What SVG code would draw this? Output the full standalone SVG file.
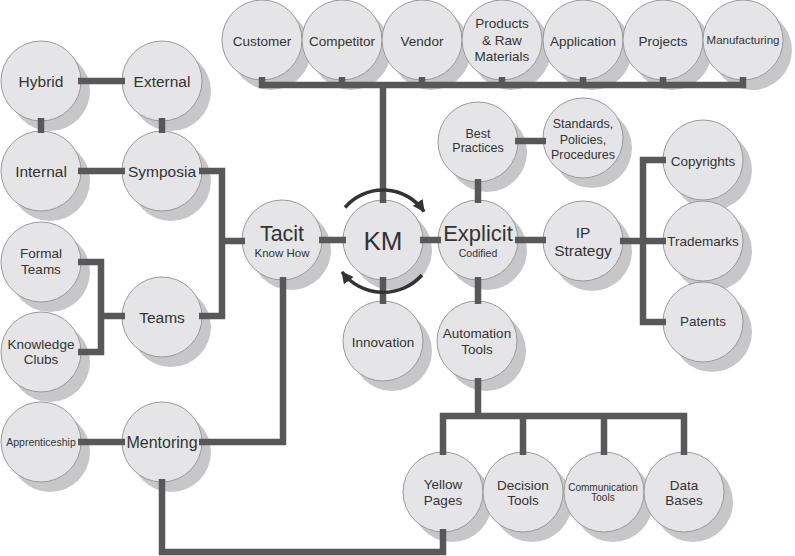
<svg xmlns="http://www.w3.org/2000/svg" width="795" height="556" viewBox="0 0 795 556">
<defs>
<style>
.sh{fill:#c7c7c9}
.c{fill:#e5e5e7;stroke:#9a9a9a;stroke-width:1}
text{font-family:"Liberation Sans",Arial,Helvetica,sans-serif;fill:#333;text-anchor:middle}
.f13{font-size:13.5px}
.f15{font-size:15.5px}
.ln{fill:none;stroke:#58585a;stroke-width:6.5;stroke-linejoin:miter;stroke-linecap:butt}
.arc{fill:none;stroke:#333;stroke-width:3.5}
</style>
<marker id="ah" markerUnits="userSpaceOnUse" markerWidth="12" markerHeight="12" viewBox="0 0 12 12" refX="11" refY="6" orient="auto">
<path d="M0,0 L12,6 L0,12 z" fill="#333"/>
</marker>
</defs>
<rect width="795" height="556" fill="#fff"/>

<g id="customer"><circle class="sh" cx="271" cy="50" r="40"/><circle class="c" cx="262" cy="40" r="40"/><text class="f13" x="262" y="45.5">Customer</text></g>
<g id="competitor"><circle class="sh" cx="351" cy="50" r="40"/><circle class="c" cx="342" cy="40" r="40"/><text class="f13" x="342" y="45.5">Competitor</text></g>
<g id="vendor"><circle class="sh" cx="431" cy="50" r="40"/><circle class="c" cx="422" cy="40" r="40"/><text class="f13" x="422" y="45.5">Vendor</text></g>
<g id="products"><circle class="sh" cx="511" cy="50" r="40"/><circle class="c" cx="502" cy="40" r="40"/><text class="f13" x="502" y="28">Products</text><text class="f13" x="502" y="44.5">&amp; Raw</text><text class="f13" x="502" y="61">Materials</text></g>
<g id="application"><circle class="sh" cx="592" cy="50" r="40"/><circle class="c" cx="583" cy="40" r="40"/><text class="f13" x="583" y="45.5">Application</text></g>
<g id="projects"><circle class="sh" cx="672" cy="50" r="40"/><circle class="c" cx="663" cy="40" r="40"/><text class="f13" x="663" y="45.5">Projects</text></g>
<g id="manufacturing"><circle class="sh" cx="752" cy="50" r="40"/><circle class="c" cx="743" cy="40" r="40"/><text x="743" y="44" font-size="11.5">Manufacturing</text></g>

<g id="hybrid"><circle class="sh" cx="50" cy="91" r="40"/><circle class="c" cx="41" cy="81" r="40"/><text class="f15" x="41" y="86.5">Hybrid</text></g>
<g id="external"><circle class="sh" cx="171" cy="91" r="40"/><circle class="c" cx="162" cy="81" r="40"/><text class="f15" x="162" y="86.5">External</text></g>
<g id="best-practices"><circle class="sh" cx="487" cy="152" r="40"/><circle class="c" cx="478" cy="142" r="40"/><text x="478" y="137.5" font-size="12.5">Best</text><text x="478" y="152" font-size="12.5">Practices</text></g>
<g id="standards"><circle class="sh" cx="592" cy="148" r="40"/><circle class="c" cx="583" cy="138" r="40"/><text x="583" y="127.5" font-size="12.5">Standards,</text><text x="583" y="143.5" font-size="12.5">Policies,</text><text x="583" y="158.5" font-size="12.5">Procedures</text></g>
<g id="internal"><circle class="sh" cx="50" cy="181" r="40"/><circle class="c" cx="41" cy="171" r="40"/><text class="f15" x="41" y="176.5">Internal</text></g>
<g id="symposia"><circle class="sh" cx="171" cy="181" r="40"/><circle class="c" cx="162" cy="171" r="40"/><text class="f15" x="162" y="176.5">Symposia</text></g>
<g id="copyrights"><circle class="sh" cx="712" cy="170" r="40"/><circle class="c" cx="703" cy="160" r="40"/><text class="f13" x="703" y="166">Copyrights</text></g>
<g id="tacit"><circle class="sh" cx="291" cy="250" r="40"/><circle class="c" cx="282" cy="240" r="40"/><text x="282" y="241" font-size="21.5">Tacit</text><text x="282" y="257" font-size="11.5">Know How</text></g>
<g id="km"><circle class="sh" cx="392" cy="250" r="40"/><circle class="c" cx="383" cy="240" r="40"/><text x="383" y="249.5" font-size="26">KM</text></g>
<g id="explicit"><circle class="sh" cx="487" cy="250" r="40"/><circle class="c" cx="478" cy="240" r="40"/><text x="478" y="241" font-size="22">Explicit</text><text x="478" y="257" font-size="10.5">Codified</text></g>
<g id="ip-strategy"><circle class="sh" cx="592" cy="251" r="40"/><circle class="c" cx="583" cy="241" r="40"/><text class="f15" x="583" y="237.5">IP</text><text class="f15" x="583" y="255.5">Strategy</text></g>
<g id="trademarks"><circle class="sh" cx="712" cy="251" r="40"/><circle class="c" cx="703" cy="241" r="40"/><text class="f13" x="703" y="246">Trademarks</text></g>
<g id="formal-teams"><circle class="sh" cx="50" cy="272" r="40"/><circle class="c" cx="41" cy="262" r="40"/><text class="f13" x="41" y="258">Formal</text><text class="f13" x="41" y="274">Teams</text></g>
<g id="teams"><circle class="sh" cx="171" cy="327" r="40"/><circle class="c" cx="162" cy="317" r="40"/><text class="f15" x="162" y="322.5">Teams</text></g>
<g id="innovation"><circle class="sh" cx="392" cy="351" r="40"/><circle class="c" cx="383" cy="341" r="40"/><text class="f13" x="383" y="347">Innovation</text></g>
<g id="automation-tools"><circle class="sh" cx="486" cy="351" r="40"/><circle class="c" cx="477" cy="341" r="40"/><text class="f13" x="477" y="338">Automation</text><text class="f13" x="477" y="354">Tools</text></g>
<g id="patents"><circle class="sh" cx="712" cy="332" r="40"/><circle class="c" cx="703" cy="322" r="40"/><text class="f13" x="703" y="326">Patents</text></g>
<g id="knowledge-clubs"><circle class="sh" cx="50" cy="362" r="40"/><circle class="c" cx="41" cy="352" r="40"/><text class="f13" x="41" y="349">Knowledge</text><text class="f13" x="41" y="364">Clubs</text></g>
<g id="apprenticeship"><circle class="sh" cx="50" cy="452" r="40"/><circle class="c" cx="41" cy="442" r="40"/><text x="41" y="446" font-size="10.5">Apprenticeship</text></g>
<g id="mentoring"><circle class="sh" cx="171" cy="452" r="40"/><circle class="c" cx="162" cy="442" r="40"/><text x="162" y="447.5" font-size="16">Mentoring</text></g>
<g id="yellow-pages"><circle class="sh" cx="452" cy="502" r="40"/><circle class="c" cx="443" cy="492" r="40"/><text class="f13" x="443" y="489">Yellow</text><text class="f13" x="443" y="505">Pages</text></g>
<g id="decision-tools"><circle class="sh" cx="532" cy="502" r="40"/><circle class="c" cx="523" cy="492" r="40"/><text class="f13" x="523" y="490">Decision</text><text class="f13" x="523" y="505">Tools</text></g>
<g id="communication-tools"><circle class="sh" cx="613" cy="502" r="40"/><circle class="c" cx="604" cy="492" r="40"/><text x="603" y="490.5" font-size="10">Communication</text><text x="603" y="501" font-size="10">Tools</text></g>
<g id="data-bases"><circle class="sh" cx="693" cy="502" r="40"/><circle class="c" cx="684" cy="492" r="40"/><text class="f13" x="684" y="490">Data</text><text class="f13" x="684" y="505">Bases</text></g>

<g id="connectors">
<path class="ln" d="M262,77 V85 H743 V77"/>
<path class="ln" d="M342,77 V85 M422,77 V85 M502,77 V85 M583,77 V85 M663,77 V85"/>
<path class="ln" d="M383,85 V203"/>
<path class="ln" d="M78,81 H125 M41,118 V133 M162,118 V133 M78,171 H125"/>
<path class="ln" d="M199,171 H222 V316 H199 M222,241 H245"/>
<path class="ln" d="M78,262 H101 V352 H78 M101,316 H125"/>
<path class="ln" d="M78,442 H125"/>
<path class="ln" d="M199,442 H283 V277"/>
<path class="ln" d="M162,479 V552 H443 V529"/>
<path class="ln" d="M319,240 H346 M420,240 H441 M515,240 H546"/>
<path class="ln" d="M383,277 V304 M478,179 V203 M515,141 H546 M478,277 V304"/>
<path class="ln" d="M478,378 V416"/>
<path class="ln" d="M443,455 V416 H684 V455 M523,416 V455 M604,416 V455"/>
<path class="ln" d="M620,241 H666 M666,160 H643 V322 H666"/>
<path class="arc" d="M345,207.5 A50,50 0 0 1 424,211.4" marker-end="url(#ah)"/>
<path class="arc" d="M422,275 A52,52 0 0 1 342,272" marker-end="url(#ah)"/>
</g>
</svg>
